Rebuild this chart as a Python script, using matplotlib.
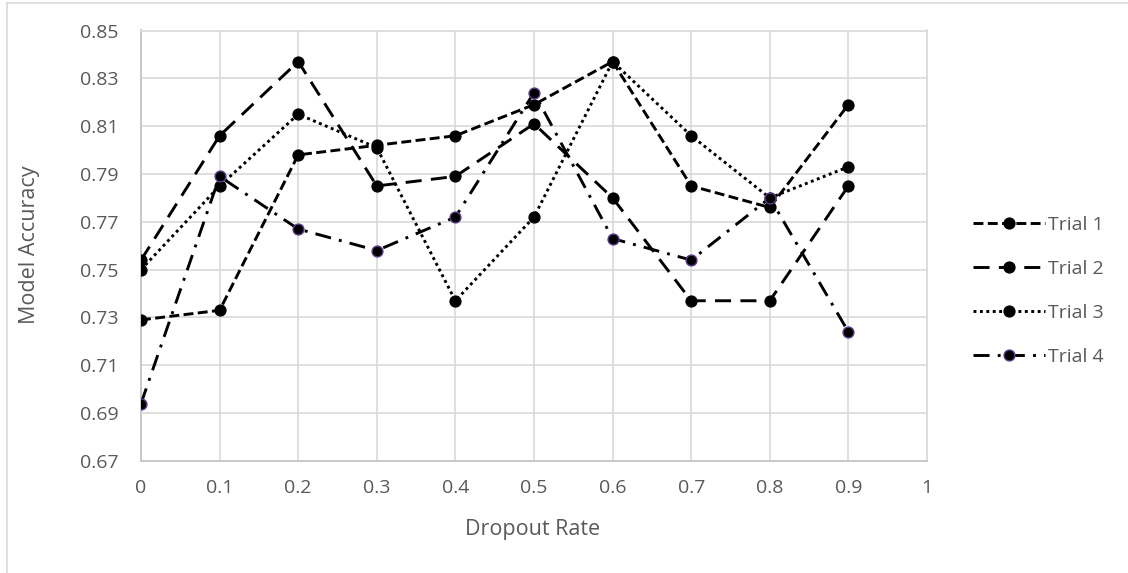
import matplotlib
matplotlib.use("Agg")
import matplotlib.pyplot as plt
from matplotlib.lines import Line2D

# Dropout rates tested and model accuracy per trial
dropout = [0.0, 0.1, 0.2, 0.3, 0.4, 0.5, 0.6, 0.7, 0.8, 0.9]
trial1 = [0.729, 0.733, 0.798, 0.802, 0.806, 0.819, 0.837, 0.785, 0.776, 0.819]
trial2 = [0.754, 0.806, 0.837, 0.785, 0.789, 0.811, 0.780, 0.737, 0.737, 0.785]
trial3 = [0.750, 0.785, 0.815, 0.801, 0.737, 0.772, 0.837, 0.806, 0.780, 0.793]
trial4 = [0.694, 0.789, 0.767, 0.758, 0.772, 0.824, 0.763, 0.754, 0.780, 0.724]
series_names = ["Trial 1", "Trial 2", "Trial 3", "Trial 4"]

x_ticks = [0, 0.1, 0.2, 0.3, 0.4, 0.5, 0.6, 0.7, 0.8, 0.9, 1]
x_tick_labels = ["0", "0.1", "0.2", "0.3", "0.4", "0.5", "0.6", "0.7", "0.8", "0.9", "1"]
y_ticks = [0.67, 0.69, 0.71, 0.73, 0.75, 0.77, 0.79, 0.81, 0.83, 0.85]
y_tick_labels = ["0.67", "0.69", "0.71", "0.73", "0.75", "0.77", "0.79", "0.81", "0.83", "0.85"]

plt.rcParams["font.family"] = ["Open Sans", "DejaVu Sans"]
text_color = "#595959"
grid_color = "#d9d9d9"

W, H = 1128, 573
fig = plt.figure(figsize=(W / 100, H / 100), dpi=100)
fig.patch.set_facecolor("white")

# Thin chart border (left and top edges)
fig.add_artist(Line2D([7 / W, 7 / W], [0, 1 - 3 / H], color="#d9d9d9", lw=1.2,
                      transform=fig.transFigure))
fig.add_artist(Line2D([7 / W, 1], [1 - 3 / H, 1 - 3 / H], color="#d9d9d9", lw=1.2,
                      transform=fig.transFigure))

left, right, top, bottom = 141, 927, 30.5, 461
ax = fig.add_axes([left / W, 1 - bottom / H, (right - left) / W, (bottom - top) / H])

lw = 2.1
ms = 7.8
styles = [
    dict(dashes=(3.4, 1.5)),
    dict(dashes=(5.5, 3.2)),
    dict(dashes=(1.0, 1.2), dash_capstyle="butt"),
    dict(dashes=(5.5, 2.8, 1.0, 2.8)),
]
edge_colors = ["black", "black", "black", "#5b3a8c"]

for ys, name, st, ec in zip([trial1, trial2, trial3, trial4], series_names, styles, edge_colors):
    ax.plot(dropout, ys, color="black", lw=lw, marker="o", markersize=ms,
            markerfacecolor="black", markeredgecolor=ec, markeredgewidth=1.0,
            label=name, zorder=3, **st)

ax.set_xlim(0, 1)
ax.set_ylim(0.67, 0.85)
ax.set_xticks(x_ticks)
ax.set_xticklabels(x_tick_labels)
ax.set_yticks(y_ticks)
ax.set_yticklabels(y_tick_labels)
ax.tick_params(axis="both", length=0, labelsize=14, colors=text_color)
ax.tick_params(axis="x", pad=13)
ax.tick_params(axis="y", pad=16)
ax.grid(True, color=grid_color, lw=1.2, zorder=0)
ax.set_axisbelow(True)
for side in ["top", "right"]:
    ax.spines[side].set_color(grid_color)
    ax.spines[side].set_linewidth(1.2)
for side in ["left", "bottom"]:
    ax.spines[side].set_color("#c8c8c8")
    ax.spines[side].set_linewidth(1.4)

# Axis titles
fig.text(533 / W, 1 - 530 / H, "Dropout Rate", fontsize=15.5, color=text_color,
         ha="center", va="center")
fig.text(30 / W, 1 - 245 / H, "Model Accuracy", fontsize=15.5, color=text_color,
         ha="center", va="center", rotation=90)

leg = ax.legend(loc="center left", bbox_to_anchor=((973 - left) / (right - left), (bottom - 291) / (bottom - top)),
                frameon=False, borderaxespad=0, borderpad=0,
                fontsize=14, handlelength=3.7, handletextpad=0.15,
                labelspacing=1.33, labelcolor=text_color)

fig.savefig("out.png", dpi=100, facecolor="white")
